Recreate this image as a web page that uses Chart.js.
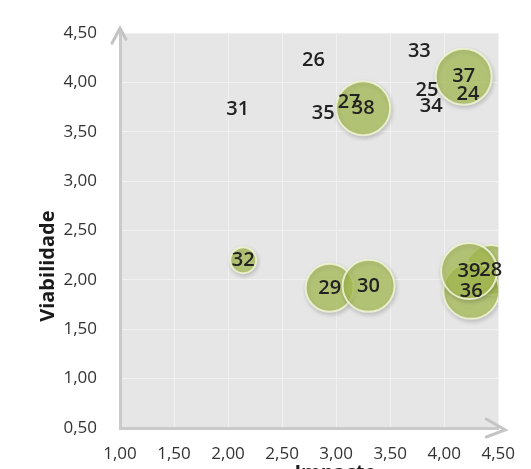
<!DOCTYPE html>
<html>
<head>
<meta charset="utf-8">
<script src="https://cdn.jsdelivr.net/npm/chart.js@4"></script>
<style>
  html, body { margin: 0; padding: 0; background: #fff; overflow: hidden; }
  #wrap { width: 531px; height: 469px; }
</style>
</head>
<body>
<div id="wrap"><canvas id="matriz" width="531" height="469"></canvas></div>
<script>
// projetos: impacto x viabilidade, bolha = tamanho
const ids = ["24", "25", "26", "27", "28", "29", "30", "31", "32", "33", "34", "35", "36", "37", "38", "39"];
const impacto = [4.22, 3.84, 2.79, 3.12, 4.43, 2.94, 3.30, 2.09, 2.14, 3.77, 3.88, 2.88, 4.25, 4.18, 3.25, 4.23];
const viabilidade = [3.88, 3.92, 4.23, 3.80, 2.10, 1.92, 1.94, 3.73, 2.20, 4.32, 3.76, 3.69, 1.89, 4.06, 3.74, 2.09];
const tamanho = [0, 0, 0, 0, 25, 24, 26, 0, 13, 0, 0, 0, 28, 28, 27, 28];

const xMin = 1, xMax = 4.5, yMin = 0.5, yMax = 4.5, passo = 0.5;

const fmt = (v) => v.toFixed(2).replace(".", ",");
const FONT = "'Open Sans', sans-serif";

const pontos = ids.map((id, i) => ({ x: impacto[i], y: viabilidade[i], r: tamanho[i] }));

// fundo cinza da area do grafico
const fundo = {
  id: "fundo",
  beforeDraw(chart) {
    const { ctx, chartArea: a } = chart;
    ctx.save();
    ctx.fillStyle = "#e6e6e6";
    ctx.fillRect(a.left, a.top, a.right - a.left, a.bottom - a.top);
    ctx.restore();
  },
};

// sombra nas bolhas
const sombra = {
  id: "sombra",
  beforeDatasetDraw(chart) {
    const ctx = chart.ctx;
    ctx.save();
    ctx.shadowColor = "rgba(0,0,0,0.2)";
    ctx.shadowBlur = 4;
    ctx.shadowOffsetX = 1;
    ctx.shadowOffsetY = 2;
  },
  afterDatasetDraw(chart) {
    chart.ctx.restore();
  },
};

// setas dos eixos, rotulos das bolhas e titulos
const extras = {
  id: "extras",
  afterDraw(chart) {
    const { ctx, chartArea: a } = chart;
    ctx.save();
    ctx.strokeStyle = "#c4c4c4";
    ctx.lineWidth = 3;
    ctx.lineCap = "round";
    ctx.beginPath();
    ctx.moveTo(a.left - 8, a.top + 10);
    ctx.lineTo(a.left, a.top - 5);
    ctx.lineTo(a.left + 6, a.top + 6);
    ctx.moveTo(a.right - 12, a.bottom - 9);
    ctx.lineTo(a.right + 7, a.bottom + 2);
    ctx.lineTo(a.right - 12, a.bottom + 9);
    ctx.stroke();

    const meta = chart.getDatasetMeta(0);
    ctx.fillStyle = "#222";
    ctx.font = "600 20px " + FONT;
    ctx.textAlign = "center";
    ctx.textBaseline = "middle";
    meta.data.forEach((el, i) => {
      ctx.fillText(ids[i], el.x, el.y);
    });

    ctx.fillStyle = "#1a1a1a";
    ctx.font = "bold 20px " + FONT;
    ctx.textBaseline = "top";
    ctx.fillText("Impacto", a.left + (a.right - a.left) * 0.57, a.bottom + 35);
    ctx.translate(a.left - 72, a.top + (a.bottom - a.top) * 0.59);
    ctx.rotate(-Math.PI / 2);
    ctx.textBaseline = "middle";
    ctx.fillText("Viabilidade", 0, 0);
    ctx.restore();
  },
};

new Chart(document.getElementById("matriz"), {
  type: "bubble",
  data: {
    datasets: [
      {
        label: "Projetos",
        data: pontos,
        backgroundColor: "rgba(170,192,82,0.7)",
        borderColor: "rgba(238,243,210,0.9)",
        borderWidth: (c) => (c.raw && c.raw.r > 0 ? 2 : 0),
      },
    ],
  },
  options: {
    responsive: false,
    animation: false,
    layout: { padding: { top: 25, right: 26, left: 0, bottom: 0 } },
    plugins: {
      legend: { display: false },
      tooltip: { enabled: false },
    },
    scales: {
      x: {
        type: "linear",
        min: xMin,
        max: xMax,
        afterFit: (s) => { s.height = 41; },
        ticks: {
          stepSize: passo,
          padding: 16,
          color: "#333",
          font: { family: FONT, size: 17, weight: "500" },
          callback: (v) => fmt(v),
        },
        grid: { color: "#f1f1f1", lineWidth: 1, drawTicks: false },
        border: { color: "#cacaca", width: 3 },
      },
      y: {
        type: "linear",
        min: yMin,
        max: yMax,
        afterFit: (s) => { s.width = 120; },
        ticks: {
          stepSize: passo,
          padding: 23,
          color: "#333",
          font: { family: FONT, size: 17, weight: "500" },
          callback: (v) => fmt(v),
        },
        grid: { color: "#f1f1f1", lineWidth: 1, drawTicks: false },
        border: { color: "#cacaca", width: 3 },
      },
    },
  },
  plugins: [fundo, sombra, extras],
});
</script>
</body>
</html>
